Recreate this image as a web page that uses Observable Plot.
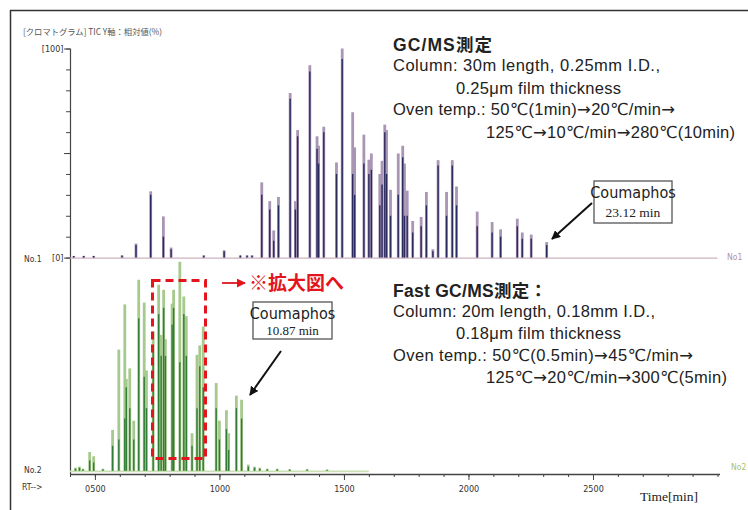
<!DOCTYPE html>
<html><head><meta charset="utf-8">
<script src="https://cdn.jsdelivr.net/npm/d3@7"></script>
<script src="https://cdn.jsdelivr.net/npm/@observablehq/plot@0.6"></script>
<style>
body{margin:0;background:#fff;}
#wrap{position:relative;width:748px;height:510px;overflow:hidden;background:#fff;}
#wrap svg{position:absolute;left:0;top:0;}
</style></head><body><div id="wrap"></div>
<script>
// ---- GC/MS (No.1) peaks: retention time [min], apex height [%], dark core height [%]
const gcTimes = [4.13,4.53,4.93,6.07,6.63,7.22,7.73,8.04,9.35,10.17,10.82,11.09,11.29,11.68,12.00,12.16,12.35,12.82,13.03,13.12,13.61,13.90,13.96,14.17,14.68,14.91,15.33,15.41,15.78,15.98,16.08,16.42,16.51,16.62,16.69,16.85,17.16,17.34,17.41,17.52,17.74,18.08,18.29,18.55,18.76,19.10,19.33,19.50,20.33,20.93,21.27,21.94,22.14,22.50,23.12];
const gcHeights = [0.8,0.8,0.8,1,6.7,31.7,19.7,4.8,1,3.5,1,1,1,36,27,13,29,78.7,27,61,92,58,53.5,62.6,45.5,100,69.5,52.7,58.8,46.8,49.8,40,46.3,63.6,61,32.4,49.8,53.5,45,32,17.5,19.4,31.4,4,46.6,31.4,46.6,34,22,17,13.5,18.6,12,11,7.4];
const gcCores = [0.8,0.8,0.8,1,6,30,10,4,1,3,1,1,1,30,23,8,25,76,23,58,89,52,45,60,40,95,40,30,45,40,42,25,35,60,40,20,30,48,20,20,12,15,25,3,44,20,44,25,15,12,10,15,9,9,6];
const gcEnd = 30.0;

// ---- Fast GC/MS (No.2) peaks
const fastTimes = [4.20,4.36,4.50,4.77,4.93,5.30,5.69,5.94,6.18,6.24,6.38,6.54,6.74,6.96,7.05,7.32,7.54,7.64,7.74,7.81,8.08,8.14,8.39,8.55,8.65,8.88,9.08,9.19,9.33,9.85,9.98,10.26,10.35,10.66,10.87,11.14,11.39,11.6,11.9,12.3,12.8,13.5,14.3];
const fastHeights = [1.5,2,1,9,7,1,19.6,58,79.6,44,49,24,91.4,80.5,48,66.6,89,65,86.6,63,80,86.6,100,83.4,74,18,55.5,60,69,42,24,29,18,36,34,3,2,1.5,1,1,0.8,0.8,0.6];
const fastCores = [1,1.5,0.8,5,4,0.8,12,15,25,40,30,15,73,45,30,60,75,55,78,55,70,78,52,75,55,12,30,50,40,30,15,20,10,30,25,2,1.5,1,0.8,0.8,0.6,0.6,0.5];
const fastEnd = 16.0;

// ---- axes
const xDomain = [4.0, 30.1];
const xMajorTicks = [5, 10, 15, 20, 25];
const xMinorTicks = d3.range(4, 31, 1);
const yPctTicks = d3.range(0, 101, 10);
const yLabelTicks = [0, 100];
const TOP = 102;            // vertical offset of the No.1 trace above No.2
const yDomain = [-1.5, 202];

const gcRows = gcTimes.map((t, i) => ({t, h: gcHeights[i], c: gcCores[i]}));
const fastRows = fastTimes.map((t, i) => ({t, h: fastHeights[i], c: fastCores[i]}));

const C = {
  gcLight: "#a995b4", gcDark: "#2b2a5e", gcBase: "#cfb2c2",
  fLight: "#a6c98e", fDark: "#327d36", fBase: "#c9dfb4", axis: "#444"
};

const chart = Plot.plot({
  width: 748, height: 510,
  marginLeft: 70, marginRight: 28, marginTop: 48.5, marginBottom: 36,
  x: {domain: xDomain, label: null},
  y: {domain: yDomain, label: null},
  style: {fontFamily: "'Liberation Sans Narrow','DejaVu Sans Condensed',sans-serif", fontSize: "9px", color: "#333", background: "transparent"},
  marks: [
    Plot.ruleX([xDomain[0]], {stroke: C.axis, strokeWidth: 1.2}),
    Plot.ruleY([yDomain[0]], {stroke: C.axis, strokeWidth: 1.4}),
    Plot.axisX({ticks: xMinorTicks, tickSize: 3, tickFormat: () => "", stroke: C.axis}),
    Plot.axisX({ticks: xMajorTicks, tickSize: 6, tickPadding: 5, stroke: C.axis,
      tickFormat: d => String(d * 100).padStart(4, "0")}),
    Plot.axisY({ticks: yPctTicks.map(v => v + TOP), tickSize: 4, tickFormat: () => "", stroke: C.axis}),
    Plot.axisY({ticks: [TOP, TOP + 50, TOP + 100], tickSize: 6, tickPadding: 1, stroke: C.axis,
      tickFormat: d => yLabelTicks.includes(d - TOP) ? `[${d - TOP}]` : ""}),
    // baselines
    Plot.ruleY([TOP], {x1: xDomain[0], x2: gcEnd, stroke: C.gcBase, strokeWidth: 1.4}),
    Plot.ruleY([0], {x1: xDomain[0], x2: fastEnd, stroke: C.fBase, strokeWidth: 1.6}),
    // GC/MS peaks
    Plot.ruleX(gcRows, {x: "t", y1: TOP, y2: d => TOP + d.h, stroke: C.gcLight, strokeWidth: 2.8}),
    Plot.ruleX(gcRows, {x: "t", y1: TOP, y2: d => TOP + d.c, stroke: C.gcDark, strokeWidth: 1.4}),
    // Fast GC/MS peaks
    Plot.ruleX(fastRows, {x: "t", y1: 0, y2: "h", stroke: C.fLight, strokeWidth: 2.8}),
    Plot.ruleX(fastRows, {x: "t", y1: 0, y2: "c", stroke: C.fDark, strokeWidth: 1.4})
  ]
});
document.getElementById("wrap").appendChild(chart);

// ---- annotations overlay
const sans = "'Liberation Sans',Arial,'DejaVu Sans','Noto Sans CJK JP',sans-serif";
const narrow = "'Liberation Sans Narrow','DejaVu Sans Condensed',sans-serif";
const serif = "'Liberation Serif','DejaVu Serif',serif";
const cjk = "'Noto Sans CJK JP',sans-serif";
const A = `<tspan font-family="'DejaVu Sans'">→</tspan>`;
const ov = `
<svg width="748" height="510" xmlns="http://www.w3.org/2000/svg">
<defs>
 <marker id="ah" viewBox="0 0 10 10" refX="9" refY="5" markerWidth="4.5" markerHeight="4.5" orient="auto">
  <path d="M0,0 L10,5 L0,10 z" fill="#111"/></marker>
 <marker id="rh" viewBox="0 0 10 10" refX="9" refY="5" markerWidth="5" markerHeight="5" orient="auto">
  <path d="M0,0 L10,5 L0,10 z" fill="#e3141c"/></marker>
</defs>
<line x1="10" y1="10.5" x2="748" y2="10.5" stroke="#333" stroke-width="1.5"/>
<line x1="10.5" y1="10" x2="10.5" y2="510" stroke="#333" stroke-width="1.5"/>
<text x="23" y="35" font-family="${cjk}" font-size="8.3" fill="#555">[クロマトグラム]  TIC  Y軸：相対値(%)</text>
<text x="24" y="262" font-family="${narrow}" font-size="8.5" fill="#333">No.1</text>
<text x="24" y="473" font-family="${narrow}" font-size="8.5" fill="#333">No.2</text>
<text x="22" y="490" font-family="${narrow}" font-size="8.5" fill="#333">RT--&gt;</text>
<text x="727" y="260" font-family="${narrow}" font-size="8.5" fill="#b58fa5">No1</text>
<text x="731" y="470" font-family="${narrow}" font-size="8.5" fill="#a9c26e">No2</text>
<text x="640" y="501" font-family="${serif}" font-size="13.5" fill="#222">Time[min]</text>

<g font-family="${sans}" font-size="16.5" fill="#222" lengthAdjust="spacing">
 <text x="393" y="51" font-weight="bold" font-size="17.5" textLength="99">GC/MS測定</text>
 <text x="393" y="71" textLength="267">Column: 30m length, 0.25mm I.D.,</text>
 <text x="456" y="94" textLength="165">0.25μm film thickness</text>
 <text x="393" y="115" textLength="282">Oven temp.: 50℃(1min)${A}20℃/min${A}</text>
 <text x="486" y="138" textLength="249">125℃${A}10℃/min${A}280℃(10min)</text>
 <text x="393" y="297" font-weight="bold" font-size="17.5" textLength="154">Fast GC/MS測定：</text>
 <text x="393" y="317" textLength="262">Column: 20m length, 0.18mm I.D.,</text>
 <text x="456" y="339" textLength="165">0.18μm film thickness</text>
 <text x="393" y="361" textLength="300">Oven temp.: 50℃(0.5min)${A}45℃/min${A}</text>
 <text x="486" y="383" textLength="241">125℃${A}20℃/min${A}300℃(5min)</text>
</g>

<rect x="594" y="181" width="78" height="42" fill="#fff" stroke="#555" stroke-width="1.3"/>
<text x="633" y="198" text-anchor="middle" font-family="${narrow}" font-size="16" fill="#222">Coumaphos</text>
<text x="633" y="217" text-anchor="middle" font-family="${serif}" font-size="13.5" fill="#222">23.12 min</text>
<line x1="592" y1="203" x2="552" y2="239" stroke="#111" stroke-width="2" marker-end="url(#ah)"/>

<rect x="253" y="302" width="79" height="37" fill="#fff" stroke="#555" stroke-width="1.3"/>
<text x="292.5" y="319" text-anchor="middle" font-family="${narrow}" font-size="16" fill="#222">Coumaphos</text>
<text x="292.5" y="335" text-anchor="middle" font-family="${serif}" font-size="13" fill="#222">10.87 min</text>
<line x1="281" y1="351" x2="250" y2="395" stroke="#111" stroke-width="2" marker-end="url(#ah)"/>

<rect x="152.5" y="280.5" width="53" height="178" fill="none" stroke="#e3141c" stroke-width="3" stroke-dasharray="8,5"/>
<line x1="222" y1="283" x2="245" y2="283" stroke="#e3141c" stroke-width="1.8" marker-end="url(#rh)"/>
<text x="249" y="290" font-family="${cjk}" font-weight="bold" font-size="19" fill="#e3141c">※拡大図へ</text>
</svg>`;
document.getElementById("wrap").insertAdjacentHTML("beforeend", ov);
</script></body></html>
